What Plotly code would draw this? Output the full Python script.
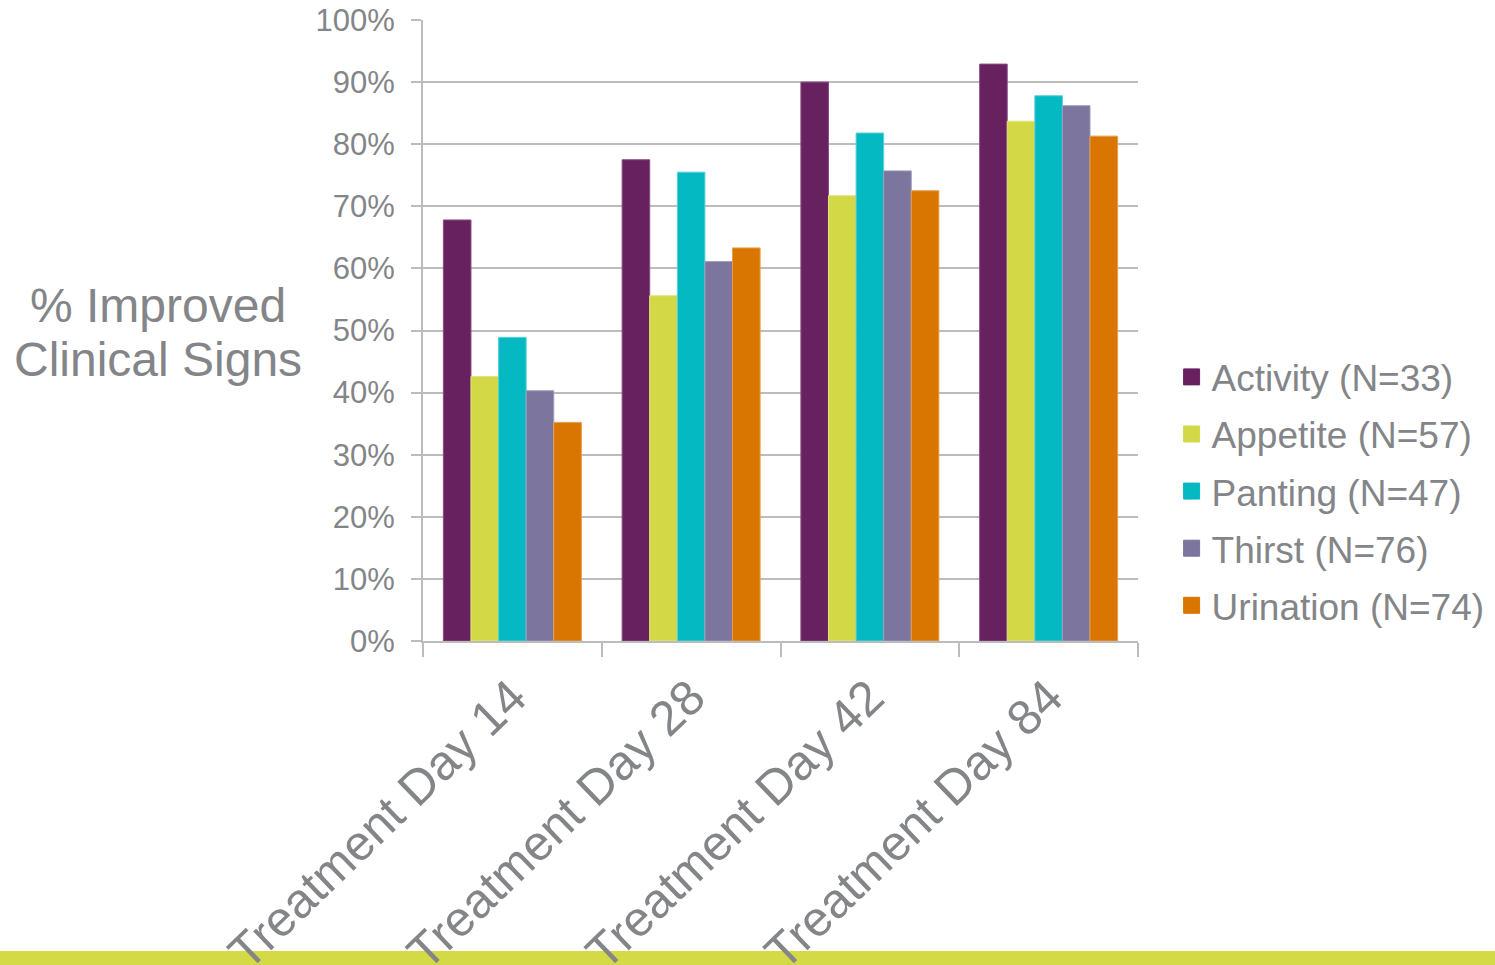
import plotly.graph_objects as go

categories = ["Treatment Day 14", "Treatment Day 28", "Treatment Day 42", "Treatment Day 84"]
series_names = ["Activity (N=33)", "Appetite (N=57)", "Panting (N=47)", "Thirst (N=76)", "Urination (N=74)"]
activity = [0.678, 0.775, 0.900, 0.929]
appetite = [0.426, 0.556, 0.717, 0.837]
panting = [0.489, 0.755, 0.818, 0.878]
thirst = [0.403, 0.611, 0.757, 0.862]
urination = [0.352, 0.633, 0.725, 0.813]
y_ticks = [0, 0.1, 0.2, 0.3, 0.4, 0.5, 0.6, 0.7, 0.8, 0.9, 1.0]
y_title_lines = ["% Improved", "Clinical Signs"]

colors = ["#68215f", "#d3d946", "#04b9c2", "#7c759e", "#d97601"]
edge_colors = ["#8a4f83", "#e0e47a", "#5ad0d6", "#a29cbd", "#e89d4c"]
values = [activity, appetite, panting, thirst, urination]

FONT = "Liberation Sans"
TXT = "#838588"
GRID = "#bcbcbc"

fig = go.Figure()
for name, vals, col, ecol in zip(series_names, values, colors, edge_colors):
    fig.add_trace(go.Bar(x=categories, y=vals, name=name,
                         marker=dict(color=col, line=dict(width=1, color=ecol)),
                         showlegend=False))
for name, col in zip(series_names, colors):
    fig.add_trace(go.Scatter(x=[None], y=[None], mode="markers", name=name, legendgroup=name,
                             marker=dict(symbol="square", size=16, color=col, line=dict(width=1, color=col))))

fig.update_layout(
    width=1495, height=965,
    margin=dict(l=423, r=357, t=20, b=324, autoexpand=False),
    paper_bgcolor="white", plot_bgcolor="white",
    barmode="group", bargap=0.228, bargroupgap=0,
    font=dict(family=FONT, color=TXT),
    legend=dict(x=1.047, xanchor="left", y=0.241, yanchor="middle",
                font=dict(size=37, color=TXT, family=FONT),
                tracegroupgap=6, itemsizing="trace", bgcolor="rgba(0,0,0,0)"),
    showlegend=True,
)
fig.update_yaxes(range=[0, 1.0], tickvals=y_ticks, tickformat=".0%", automargin=False,
                 showgrid=True, gridcolor=GRID, gridwidth=2,
                 showline=True, linecolor=GRID, linewidth=2,
                 ticks="outside", ticklen=10, tickcolor=GRID, tickwidth=2,
                 tickfont=dict(size=31, color=TXT, family=FONT), ticklabelstandoff=10,
                 zeroline=False)
fig.update_xaxes(showline=True, linecolor=GRID, linewidth=2, automargin=False,
                 ticks="outside", ticklen=14, tickcolor=GRID, tickwidth=2, tickson="boundaries",
                 tickangle=-44, tickfont=dict(size=49, color=TXT, family=FONT),
                 ticklabelstandoff=6, showgrid=False)

for line, ypos in zip(y_title_lines, [0.541, 0.4525]):
    fig.add_annotation(text=line, xref="paper", yref="paper", x=-0.371, y=ypos,
                       xanchor="center", yanchor="middle", showarrow=False, align="center",
                       font=dict(size=48, color=TXT, family=FONT))

fig.add_shape(type="rect", xref="paper", yref="paper", x0=-0.6, x1=1.51, y0=-0.53, y1=-0.499,
              fillcolor="#d4d946", line=dict(width=0), layer="below")

fig.write_html("out.html")
